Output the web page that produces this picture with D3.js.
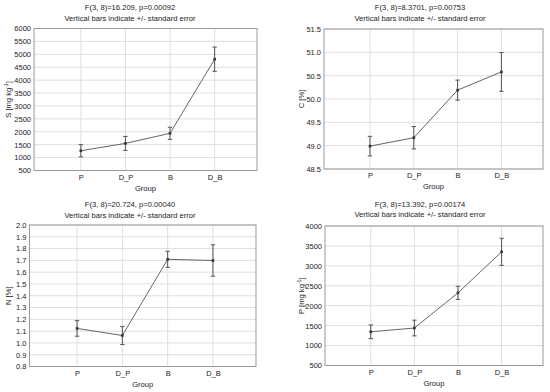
<!DOCTYPE html>
<html><head><meta charset="utf-8">
<script src="https://cdn.jsdelivr.net/npm/d3@7"></script>
<style>body{margin:0;background:#fff}svg{display:block}text{font-family:"Liberation Sans",Arial,sans-serif;fill:#222}</style>
</head><body>
<svg id="c" width="550" height="392"></svg>
<script>
const categories = ["P", "D_P", "B", "D_B"];

const sMean = [1265, 1550, 1940, 4810];
const sSE   = [235, 270, 235, 470];
const sTicks = [500, 1000, 1500, 2000, 2500, 3000, 3500, 4000, 4500, 5000, 5500, 6000];

const cMean = [48.99, 49.17, 50.19, 50.58];
const cSE   = [0.21, 0.24, 0.215, 0.415];
const cTicks = [48.5, 49.0, 49.5, 50.0, 50.5, 51.0, 51.5];

const nMean = [1.123, 1.063, 1.709, 1.699];
const nSE   = [0.066, 0.077, 0.068, 0.133];
const nTicks = [0.8, 0.9, 1.0, 1.1, 1.2, 1.3, 1.4, 1.5, 1.6, 1.7, 1.8, 1.9, 2.0];

const pMean = [1346, 1440, 2323, 3352];
const pSE   = [172, 197, 165, 340];
const pTicks = [500, 1000, 1500, 2000, 2500, 3000, 3500, 4000];

const titles = [
  "F(3, 8)=16.209, p=0.00092",
  "F(3, 8)=8.3701, p=0.00753",
  "F(3, 8)=20.724, p=0.00040",
  "F(3, 8)=13.392, p=0.00174"
];
const subtitle = "Vertical bars indicate +/- standard error";
const xTitle = "Group";

const svg = d3.select("#c");

const panels = [
  {mean: sMean, se: sSE, ticks: sTicks, fmt: d3.format("d"), label: ["S [mg kg", "-1", "]"], title: titles[0],
   L: 34, R: 257, T: 28.5, B: 170.5, tx: 130, ty: 10, yl: 8},
  {mean: cMean, se: cSE, ticks: cTicks, fmt: d3.format(".1f"), label: ["C [%]"], title: titles[1],
   L: 324, R: 543, T: 29, B: 169, tx: 420, ty: 10, yl: 301},
  {mean: nMean, se: nSE, ticks: nTicks, fmt: d3.format(".1f"), label: ["N [%]"], title: titles[2],
   L: 29.5, R: 256, T: 225, B: 366.5, tx: 130, ty: 207, yl: 8},
  {mean: pMean, se: pSE, ticks: pTicks, fmt: d3.format("d"), label: ["P [mg kg", "-1", "]"], title: titles[3],
   L: 325, R: 543, T: 226, B: 365.5, tx: 420, ty: 206.5, yl: 301}
];

panels.forEach(p => {
  const g = svg.append("g");
  const x = d3.scaleLinear().domain([-0.05, 4.95]).range([p.L, p.R]);
  const y = d3.scaleLinear().domain([p.ticks[0], p.ticks[p.ticks.length - 1]]).range([p.B, p.T]);

  g.selectAll(".hg").data(p.ticks).join("line")
    .attr("x1", p.L).attr("x2", p.R)
    .attr("y1", d => y(d)).attr("y2", d => y(d))
    .attr("stroke", "#dedede").attr("stroke-width", 1);
  g.selectAll(".vg").data(categories).join("line")
    .attr("x1", (d, i) => x(i + 1)).attr("x2", (d, i) => x(i + 1))
    .attr("y1", p.T).attr("y2", p.B)
    .attr("stroke", "#dedede").attr("stroke-width", 1);

  g.append("rect").attr("x", p.L).attr("y", p.T)
    .attr("width", p.R - p.L).attr("height", p.B - p.T)
    .attr("fill", "none").attr("stroke", "#999").attr("stroke-width", 1);

  const ya = d3.axisLeft(y).tickValues(p.ticks).tickFormat(p.fmt).tickSize(0).tickPadding(3);
  const yg = g.append("g").attr("transform", `translate(${p.L},0)`).call(ya);
  yg.select(".domain").remove();
  yg.selectAll("text").attr("font-size", 7.5).style("font-family", "Liberation Sans, Arial, sans-serif").attr("fill", "#222");

  const xa = d3.axisBottom(x).tickValues([1, 2, 3, 4]).tickFormat(i => categories[i - 1]).tickSize(0).tickPadding(4);
  const xg = g.append("g").attr("transform", `translate(0,${p.B})`).call(xa);
  xg.select(".domain").remove();
  xg.selectAll("text").attr("font-size", 7.5).style("font-family", "Liberation Sans, Arial, sans-serif").attr("fill", "#222");

  g.append("text").attr("x", p.tx).attr("y", p.ty).attr("text-anchor", "middle").attr("font-size", 7.6).text(p.title);
  g.append("text").attr("x", p.tx).attr("y", p.ty + 10.5).attr("text-anchor", "middle").attr("font-size", 7.6).text(subtitle);

  g.append("text").attr("x", (p.L + p.R) / 2).attr("y", p.B + 20).attr("text-anchor", "middle").attr("font-size", 7.6).text(xTitle);

  const yt = g.append("text").attr("transform", `translate(${p.yl},${(p.T + p.B) / 2}) rotate(-90)`)
    .attr("text-anchor", "middle").attr("dy", "0.35em").attr("font-size", 7.6);
  yt.append("tspan").text(p.label[0]);
  if (p.label.length > 1) {
    yt.append("tspan").attr("font-size", 5).attr("dy", "-0.6em").text(p.label[1]);
    yt.append("tspan").attr("dy", "0.4em").text(p.label[2]);
  }

  const line = d3.line().x((d, i) => x(i + 1)).y(d => y(d));
  g.append("path").datum(p.mean).attr("d", line).attr("fill", "none").attr("stroke", "#666").attr("stroke-width", 1);

  const eb = g.selectAll(".eb").data(p.mean).join("g");
  eb.append("line").attr("x1", (d, i) => x(i + 1)).attr("x2", (d, i) => x(i + 1))
    .attr("y1", (d, i) => y(d - p.se[i])).attr("y2", (d, i) => y(d + p.se[i]))
    .attr("stroke", "#555").attr("stroke-width", 1);
  eb.append("line").attr("x1", (d, i) => x(i + 1) - 2.2).attr("x2", (d, i) => x(i + 1) + 2.2)
    .attr("y1", (d, i) => y(d + p.se[i])).attr("y2", (d, i) => y(d + p.se[i]))
    .attr("stroke", "#555").attr("stroke-width", 1);
  eb.append("line").attr("x1", (d, i) => x(i + 1) - 2.2).attr("x2", (d, i) => x(i + 1) + 2.2)
    .attr("y1", (d, i) => y(d - p.se[i])).attr("y2", (d, i) => y(d - p.se[i]))
    .attr("stroke", "#555").attr("stroke-width", 1);
  eb.append("rect").attr("x", (d, i) => x(i + 1) - 1.3).attr("y", d => y(d) - 1.3)
    .attr("width", 2.6).attr("height", 2.6).attr("fill", "#333");
});
</script>
</body></html>
